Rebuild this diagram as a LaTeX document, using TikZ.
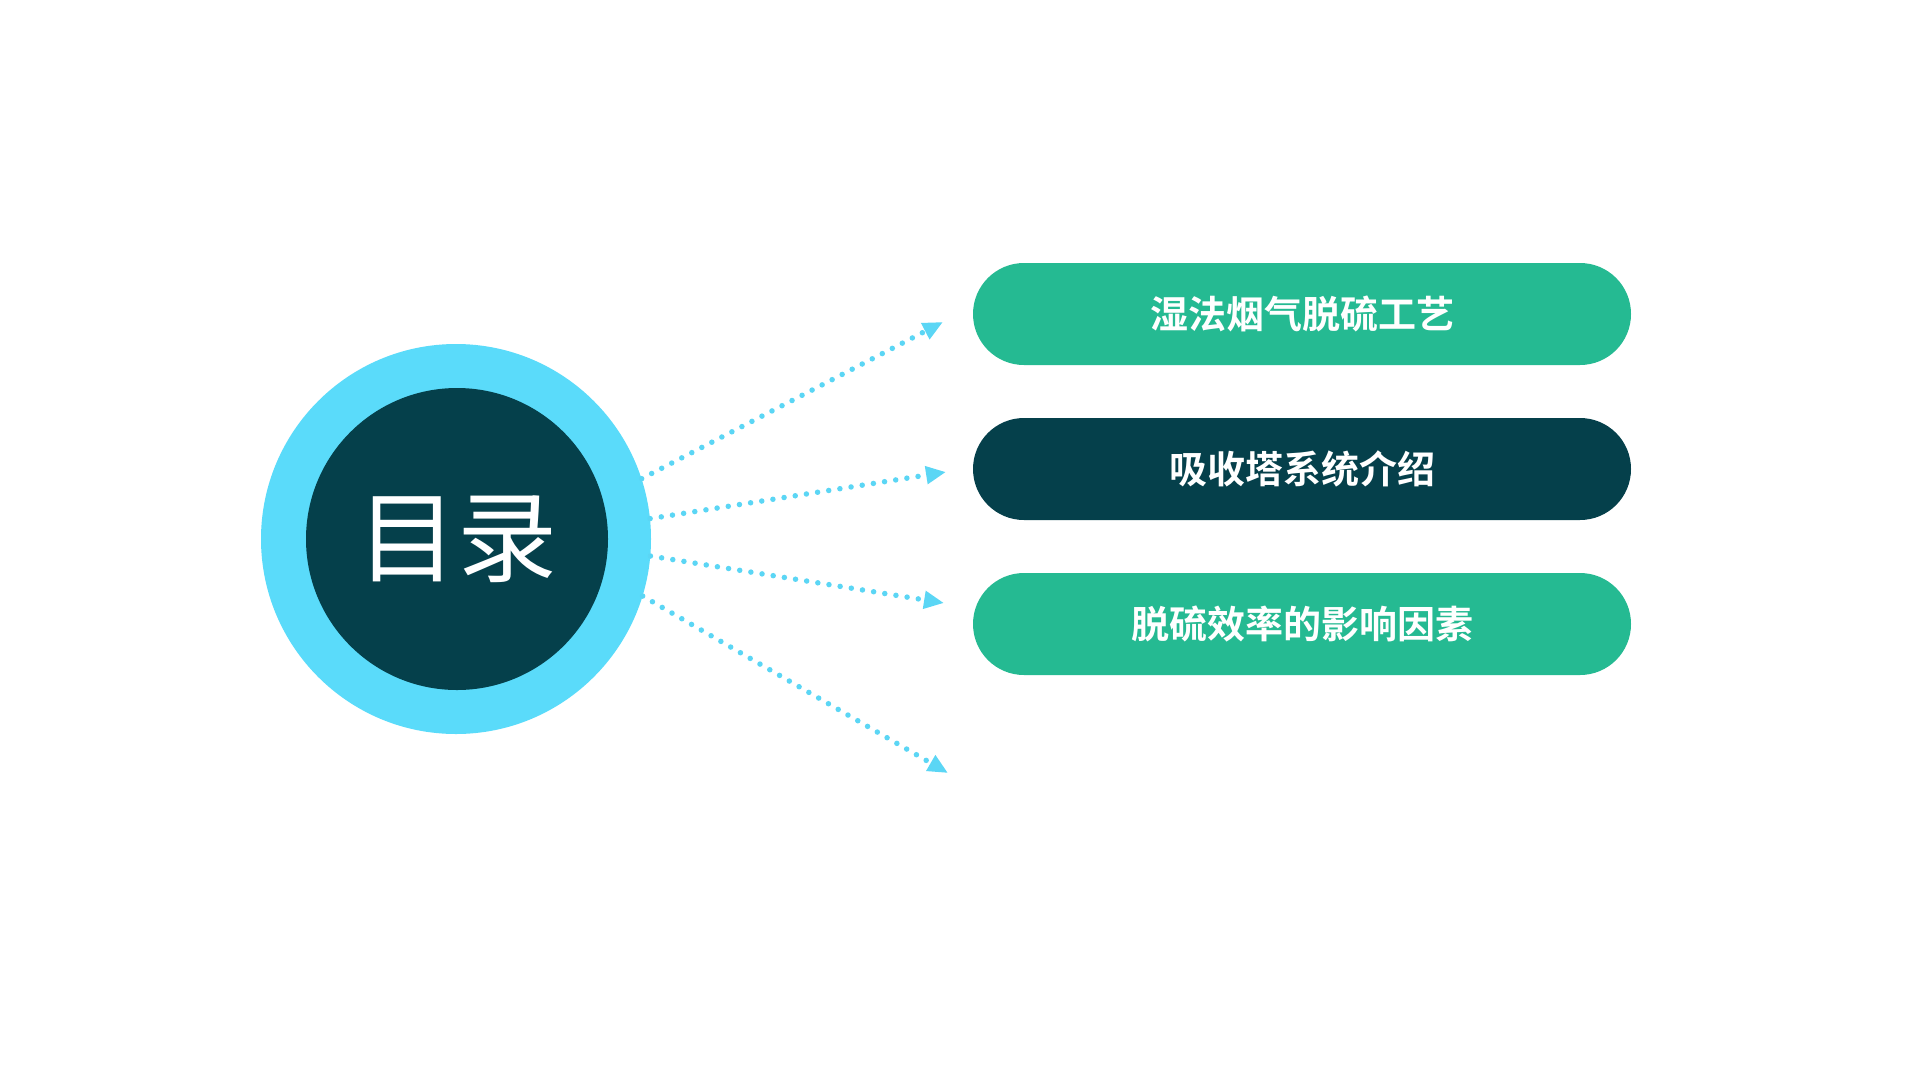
\documentclass[tikz,border=0pt]{standalone}
\usepackage{fontspec}
\newfontfamily\cjk{Noto Sans CJK SC}
\newfontfamily\cjkb{Noto Sans CJK SC Bold}
\usetikzlibrary{arrows.meta}
\definecolor{cyanring}{HTML}{5ADBFA}
\definecolor{darkteal}{HTML}{05404B}
\definecolor{pillgreen}{HTML}{25BA92}
\definecolor{dotcyan}{HTML}{5BD6F5}
\tikzset{
  pill/.style={rectangle, rounded corners=51pt, minimum width=658pt, minimum height=102pt,
    inner sep=0pt, text=white, font=\cjkb\fontsize{38}{44}\selectfont},
  greenpill/.style={pill, fill=pillgreen},
  darkpill/.style={pill, fill=darkteal},
  dotarrow/.style={draw=dotcyan, line width=5.5pt, line cap=round,
    dash pattern=on 0pt off 11.3pt, -{Triangle[length=20pt,width=17pt]}}
}
\begin{document}
\begin{tikzpicture}[x=1pt,y=-1pt]
\useasboundingbox[fill=white] (0,0) rectangle (1920,1080);
\node[circle, fill=cyanring, minimum size=390pt, inner sep=0pt] (outer) at (456,539) {};
\node[circle, fill=darkteal, minimum size=302pt, inner sep=0pt, text=white,
  font=\cjk\fontsize{100}{115}\selectfont] (inner) at (457,539) {目录};
\node[greenpill] (p1) at (1302,314) {湿法烟气脱硫工艺};
\node[darkpill] (p2) at (1302,469) {吸收塔系统介绍};
\node[greenpill] (p3) at (1302,624) {脱硫效率的影响因素};
\coordinate (e1) at (943,322);
\coordinate (e2) at (946,472);
\coordinate (e3) at (944,603);
\coordinate (e4) at (948,773);
\draw[dotarrow] (outer.18) -- (e1);
\draw[dotarrow] (outer.6.7) -- (e2);
\draw[dotarrow] (outer.-5.5) -- (e3);
\draw[dotarrow] (outer.-17) -- (e4);
\end{tikzpicture}
\end{document}
